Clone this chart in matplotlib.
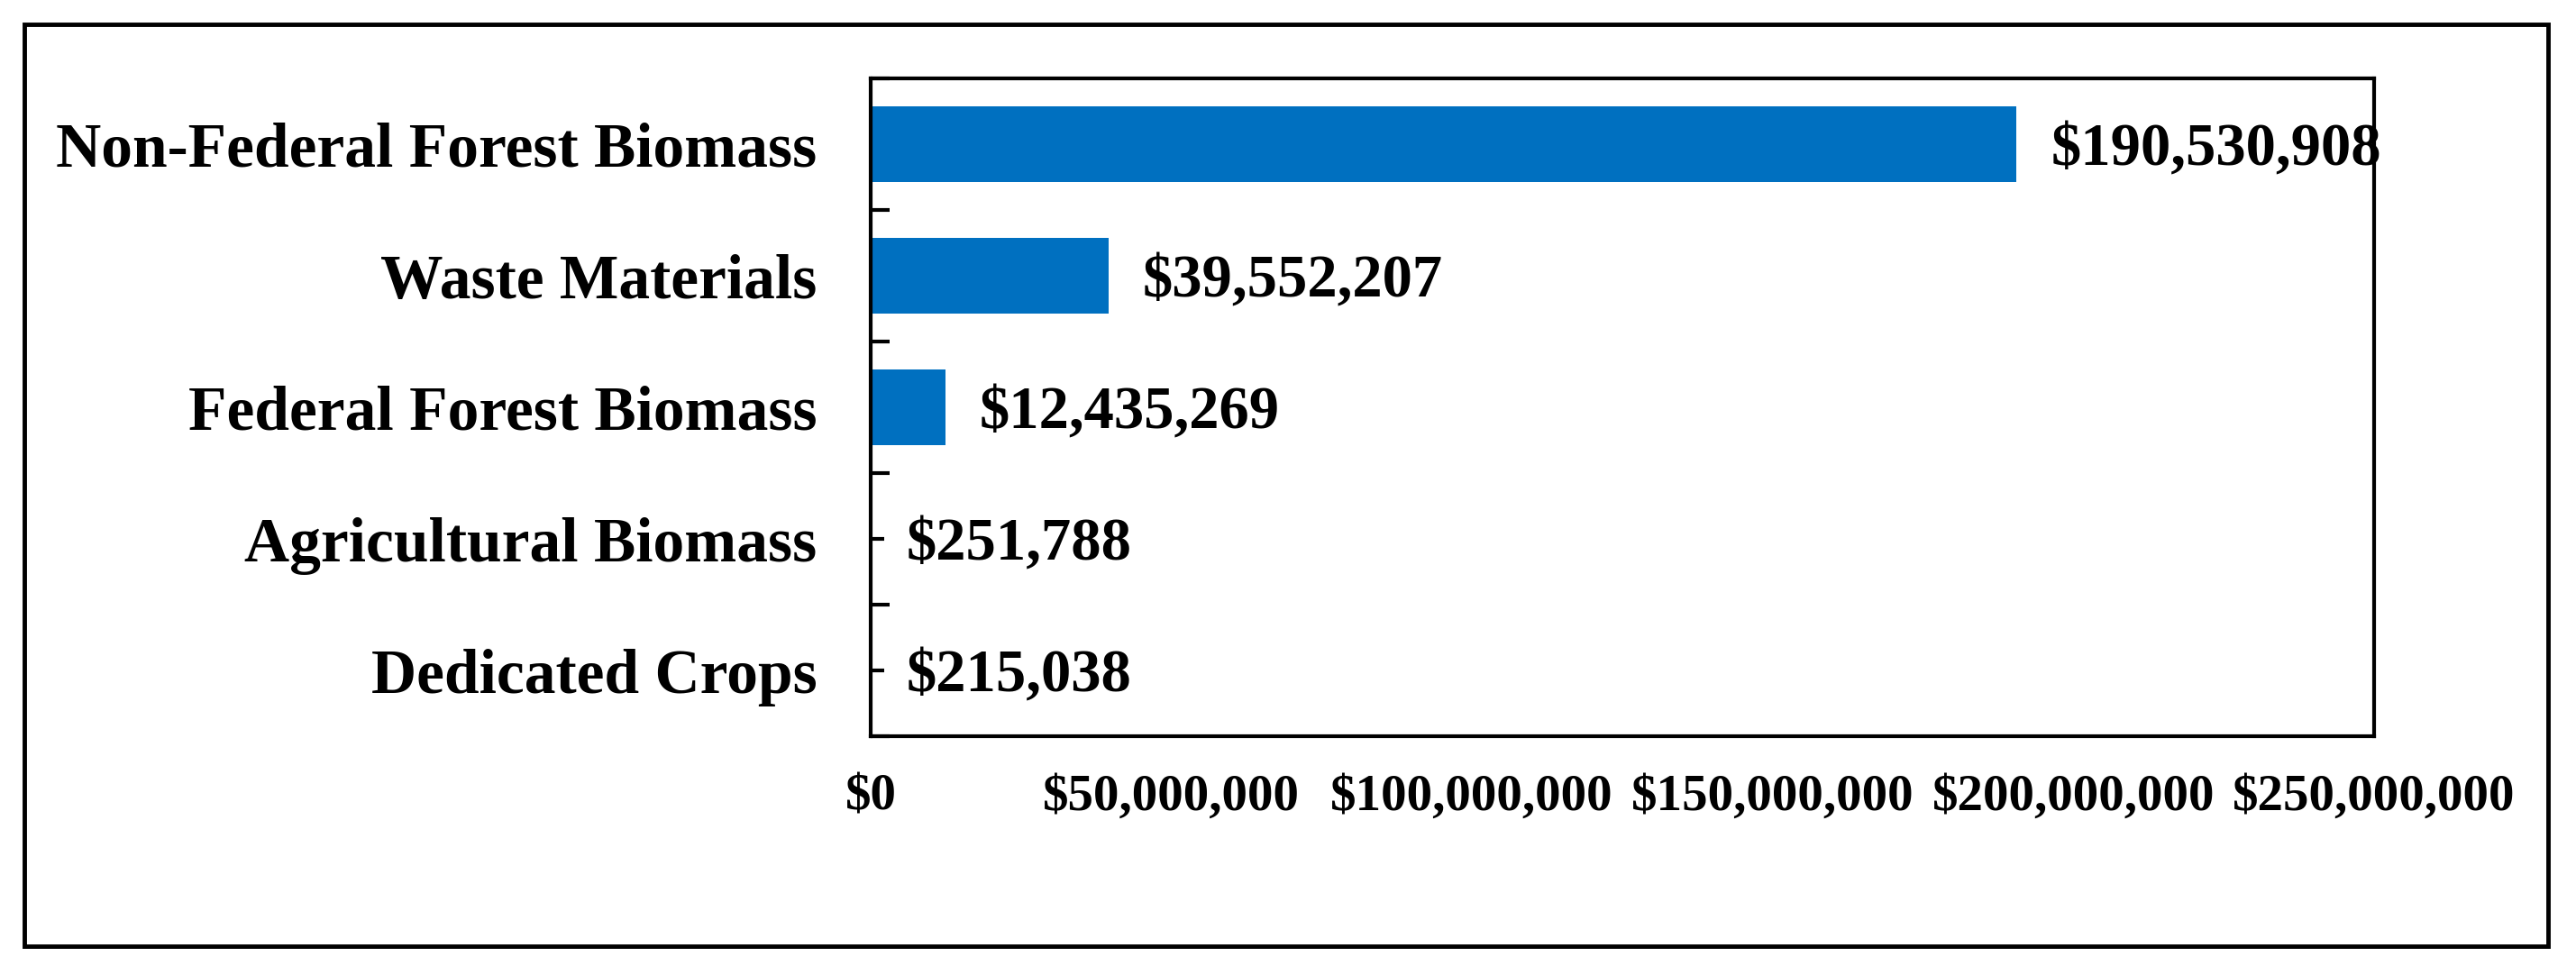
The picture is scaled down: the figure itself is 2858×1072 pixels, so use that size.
import matplotlib
import matplotlib.pyplot as plt
from matplotlib.patches import Rectangle
from matplotlib.ticker import FuncFormatter, FixedLocator

matplotlib.use("Agg")

# data, top to bottom as shown in the chart
categories = [
    "Non-Federal Forest Biomass",
    "Waste Materials",
    "Federal Forest Biomass",
    "Agricultural Biomass",
    "Dedicated Crops",
]
values = [190530908, 39552207, 12435269, 251788, 215038]
xticks = [0, 50000000, 100000000, 150000000, 200000000, 250000000]

plt.rcParams["font.family"] = ["Liberation Serif", "DejaVu Serif"]
plt.rcParams["font.weight"] = "bold"

fig = plt.figure(figsize=(28.58, 10.72), dpi=100)
ax = fig.add_axes([966 / 2858, 1 - 817 / 1072, (2634 - 966) / 2858, (817 - 87) / 1072])

n = len(categories)
ypos = list(range(n - 1, -1, -1))
ax.barh(ypos, values, height=0.57, color="#0070C0", zorder=2)

for y, v in zip(ypos, values):
    ax.text(v + 5.7e6, y, f"${v:,.0f}", va="center_baseline", ha="left",
            fontsize=48, fontweight="bold", clip_on=False)

ax.set_xlim(0, 250000000)
ax.set_ylim(-0.5, n - 0.5)

ax.set_xticks(xticks)
ax.xaxis.set_major_formatter(FuncFormatter(lambda x, p: f"${x:,.0f}"))
ax.tick_params(axis="x", length=0, pad=30, labelsize=41)

ax.set_yticks(ypos)
ax.set_yticklabels(categories)
ax.yaxis.set_minor_locator(FixedLocator([i - 0.5 for i in range(n + 1)]))
ax.tick_params(axis="y", which="major", direction="in", length=11, width=3,
               pad=43, labelsize=50)
ax.tick_params(axis="y", which="minor", direction="in", length=15, width=3)
for lbl in ax.get_xticklabels() + ax.get_yticklabels():
    lbl.set_fontweight("bold")

for s in ax.spines.values():
    s.set_linewidth(3)

# outer chart frame
fig.patches.append(Rectangle((27 / 2858, 1 - 1050 / 1072), (2827 - 27) / 2858,
                             (1050 - 27) / 1072, transform=fig.transFigure,
                             fill=False, edgecolor="black", linewidth=3.5))

fig.savefig("out.png", dpi=100)
